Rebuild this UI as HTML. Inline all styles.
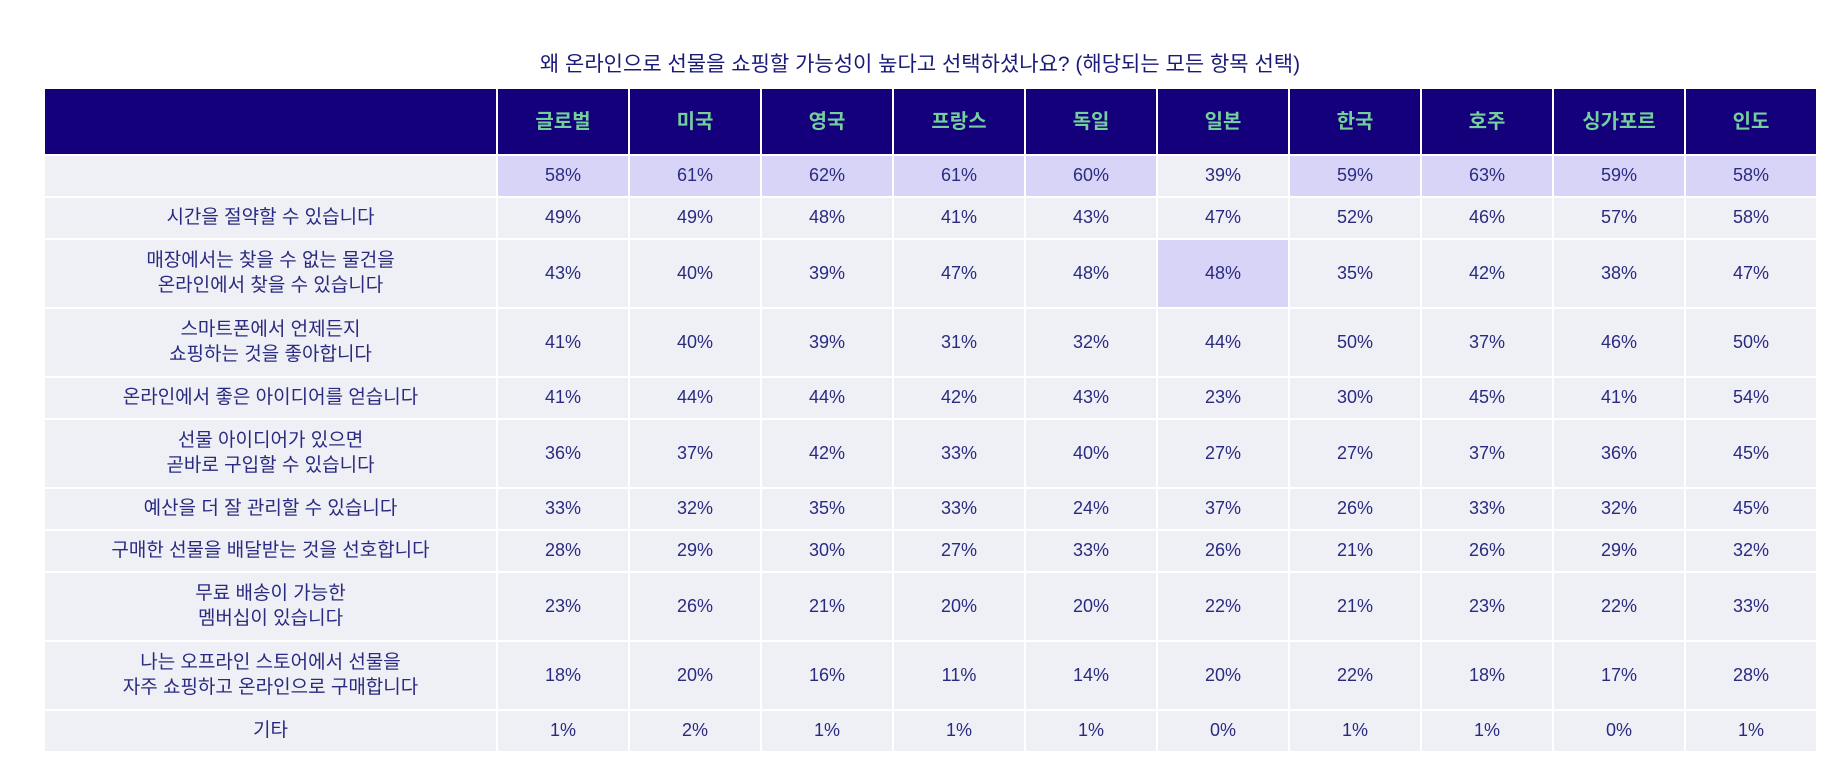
<!DOCTYPE html>
<html><head><meta charset="utf-8"><style>
body{margin:0;width:1840px;height:776px;background:#fff;font-family:"Liberation Sans","Noto Sans CJK KR",sans-serif;overflow:hidden;position:relative}
.t{position:absolute;top:48px;left:0;width:1840px;text-align:center;font-size:21px;color:#1a1a7a}
.g{position:absolute;left:45px;top:89px;width:1771px;display:grid;grid-template-columns:451px repeat(10,1fr);grid-template-rows:65px 40px 40px 67px 67px 40px 67px 40px 40px 67px 67px 40px;gap:2px}
.g div{background:#eff0f6;color:#2a2a80;font-size:18px;display:flex;align-items:center;justify-content:center;text-align:center;line-height:1.3}
.g div.l{font-size:19px}
.g div.h{background:#13007a;color:#74cf9c;font-weight:bold;font-size:20px}
.g div.y{background:#d8d4f8}
</style></head><body>
<div class="t">왜 온라인으로 선물을 쇼핑할 가능성이 높다고 선택하셨나요? (해당되는 모든 항목 선택)</div>
<div class="g">
<div class="h"></div><div class="h">글로벌</div><div class="h">미국</div><div class="h">영국</div><div class="h">프랑스</div><div class="h">독일</div><div class="h">일본</div><div class="h">한국</div><div class="h">호주</div><div class="h">싱가포르</div><div class="h">인도</div>
<div></div><div class="y">58%</div><div class="y">61%</div><div class="y">62%</div><div class="y">61%</div><div class="y">60%</div><div>39%</div><div class="y">59%</div><div class="y">63%</div><div class="y">59%</div><div class="y">58%</div>
<div class="l">시간을 절약할 수 있습니다</div><div>49%</div><div>49%</div><div>48%</div><div>41%</div><div>43%</div><div>47%</div><div>52%</div><div>46%</div><div>57%</div><div>58%</div>
<div class="l">매장에서는 찾을 수 없는 물건을<br>온라인에서 찾을 수 있습니다</div><div>43%</div><div>40%</div><div>39%</div><div>47%</div><div>48%</div><div class="y">48%</div><div>35%</div><div>42%</div><div>38%</div><div>47%</div>
<div class="l">스마트폰에서 언제든지<br>쇼핑하는 것을 좋아합니다</div><div>41%</div><div>40%</div><div>39%</div><div>31%</div><div>32%</div><div>44%</div><div>50%</div><div>37%</div><div>46%</div><div>50%</div>
<div class="l">온라인에서 좋은 아이디어를 얻습니다</div><div>41%</div><div>44%</div><div>44%</div><div>42%</div><div>43%</div><div>23%</div><div>30%</div><div>45%</div><div>41%</div><div>54%</div>
<div class="l">선물 아이디어가 있으면<br>곧바로 구입할 수 있습니다</div><div>36%</div><div>37%</div><div>42%</div><div>33%</div><div>40%</div><div>27%</div><div>27%</div><div>37%</div><div>36%</div><div>45%</div>
<div class="l">예산을 더 잘 관리할 수 있습니다</div><div>33%</div><div>32%</div><div>35%</div><div>33%</div><div>24%</div><div>37%</div><div>26%</div><div>33%</div><div>32%</div><div>45%</div>
<div class="l">구매한 선물을 배달받는 것을 선호합니다</div><div>28%</div><div>29%</div><div>30%</div><div>27%</div><div>33%</div><div>26%</div><div>21%</div><div>26%</div><div>29%</div><div>32%</div>
<div class="l">무료 배송이 가능한<br>멤버십이 있습니다</div><div>23%</div><div>26%</div><div>21%</div><div>20%</div><div>20%</div><div>22%</div><div>21%</div><div>23%</div><div>22%</div><div>33%</div>
<div class="l">나는 오프라인 스토어에서 선물을<br>자주 쇼핑하고 온라인으로 구매합니다</div><div>18%</div><div>20%</div><div>16%</div><div>11%</div><div>14%</div><div>20%</div><div>22%</div><div>18%</div><div>17%</div><div>28%</div>
<div class="l">기타</div><div>1%</div><div>2%</div><div>1%</div><div>1%</div><div>1%</div><div>0%</div><div>1%</div><div>1%</div><div>0%</div><div>1%</div>
</div>
</body></html>
